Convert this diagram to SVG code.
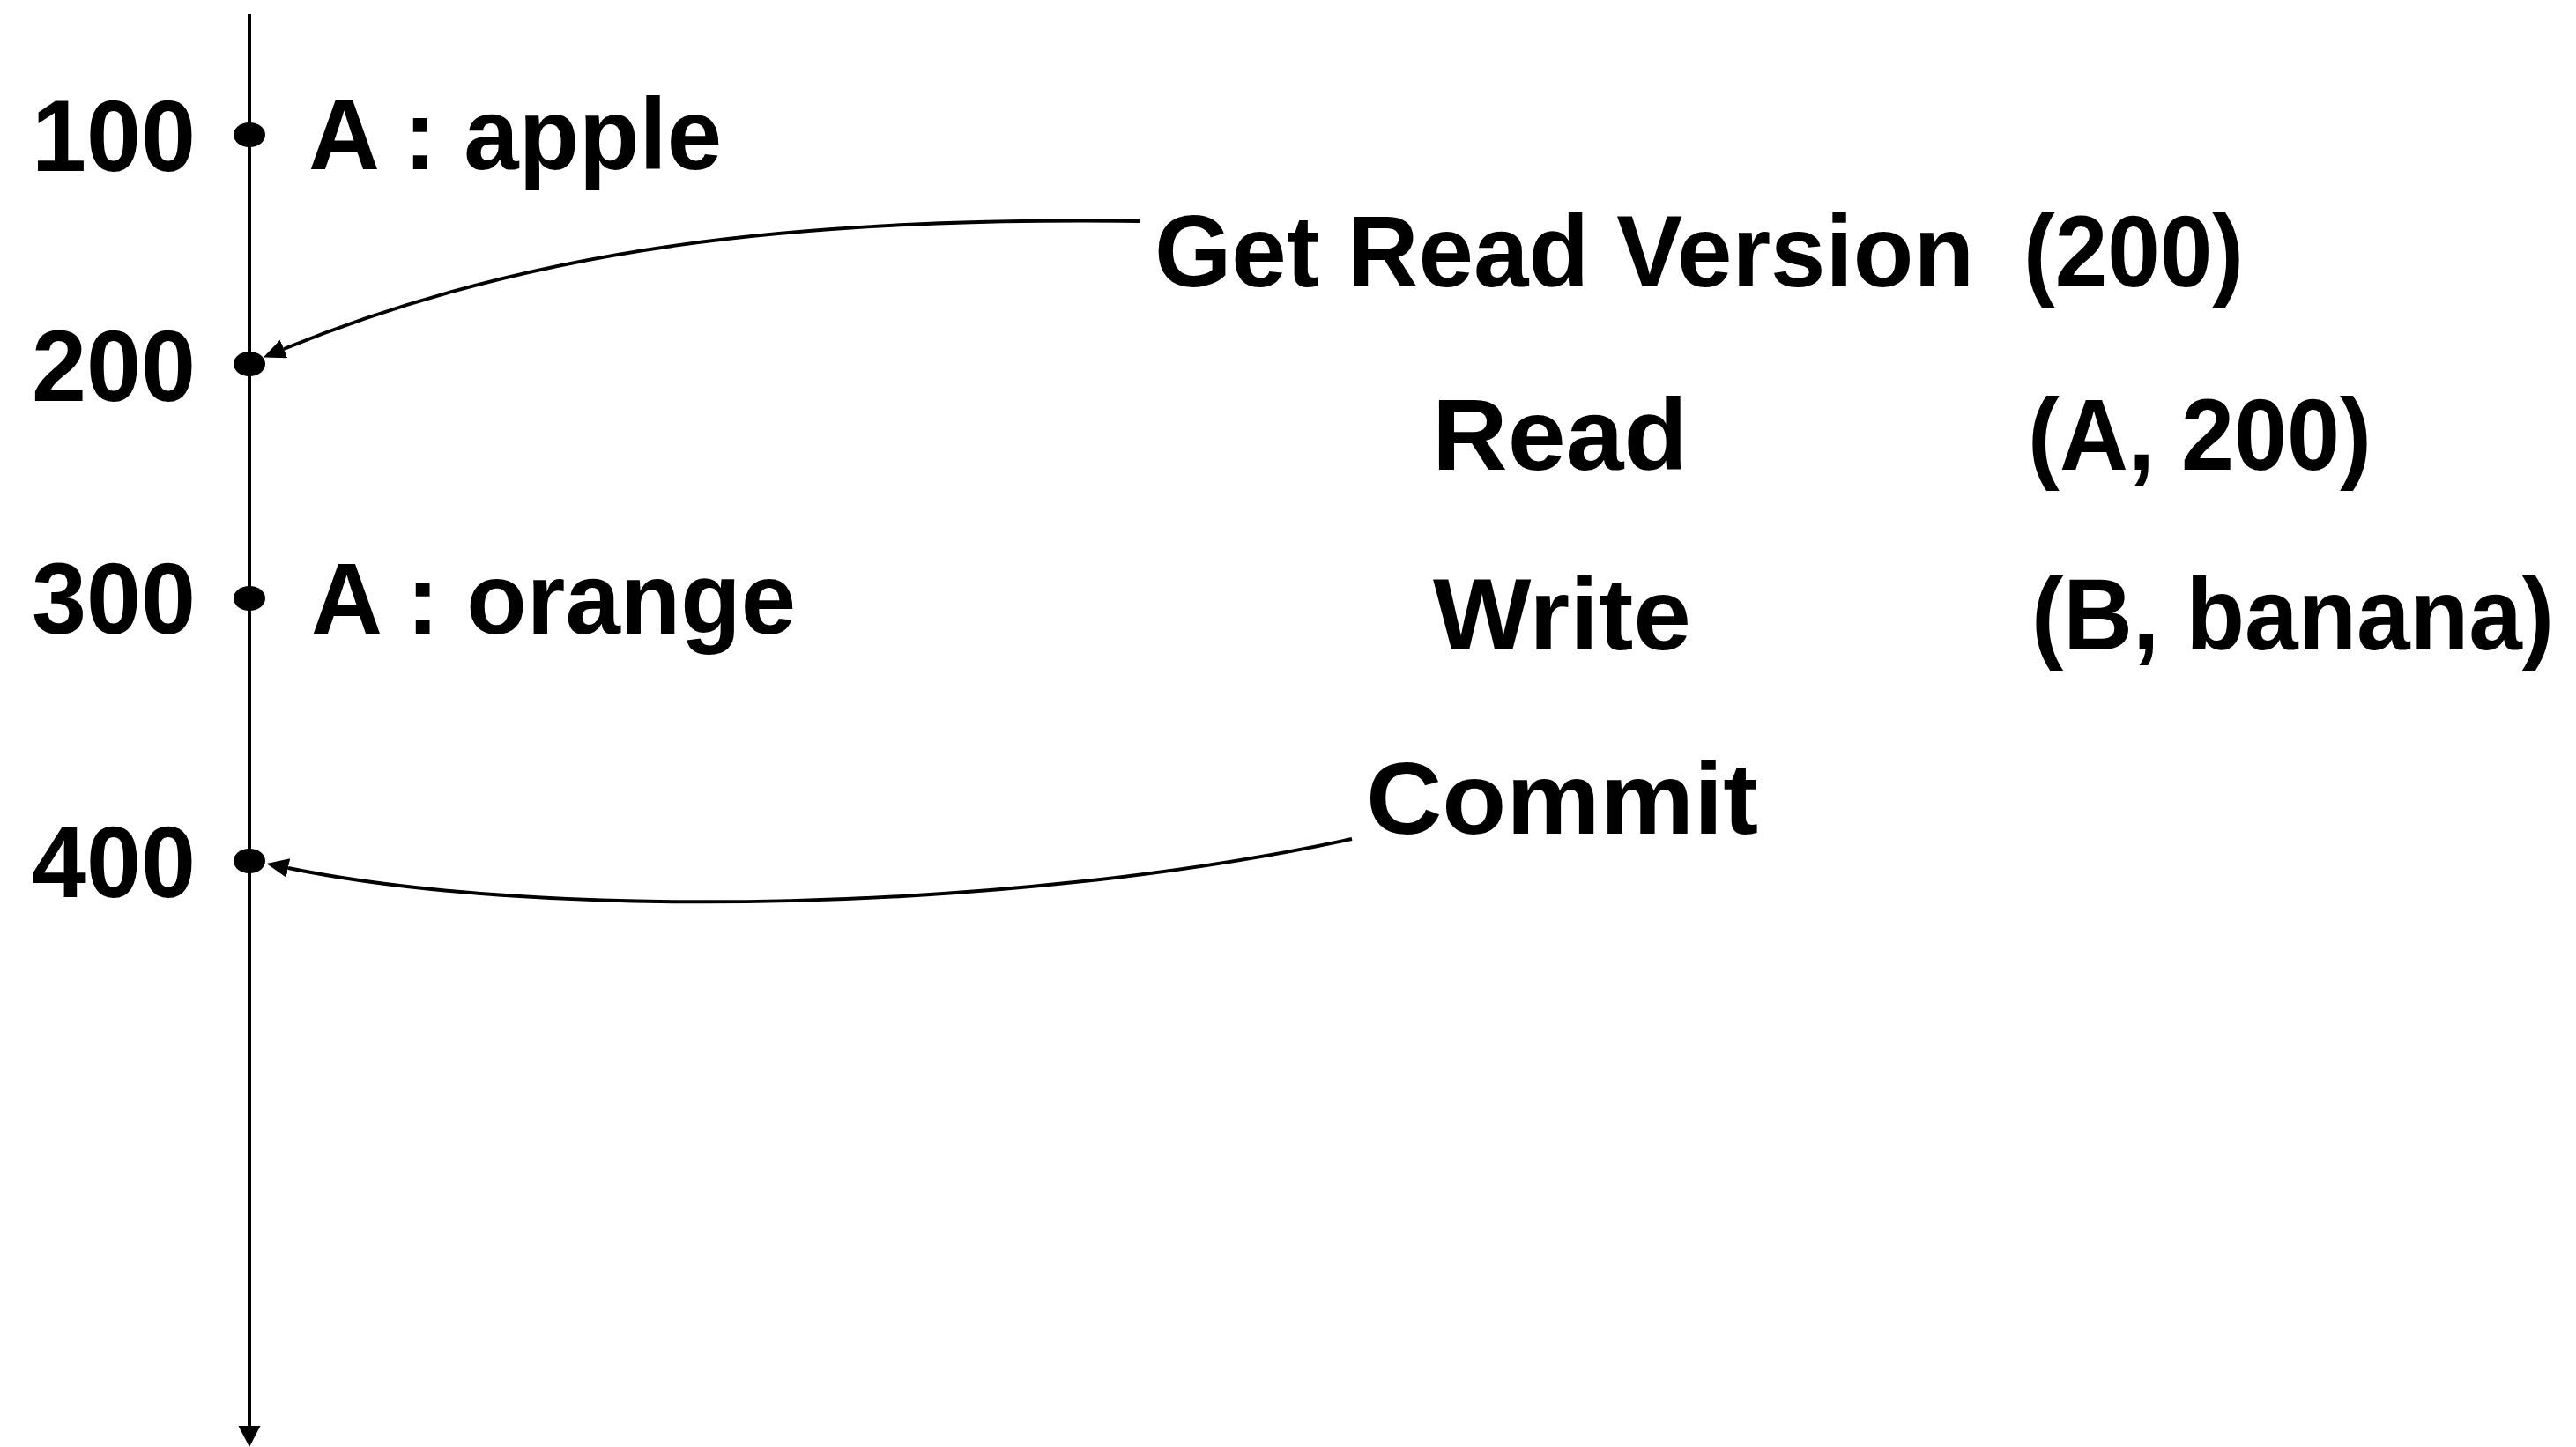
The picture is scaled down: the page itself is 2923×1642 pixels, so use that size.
<svg xmlns="http://www.w3.org/2000/svg" width="2923" height="1642" viewBox="0 0 2923 1642">
  <style>
    text { font-family: "Liberation Sans", Arial, Helvetica, sans-serif; font-weight: bold; font-size: 115px; fill: #000; }
    .tick { text-anchor: end; }
    .axis { stroke: #000; stroke-width: 4; fill: none; }
    .conn { stroke: #000; stroke-width: 4; fill: none; marker-end: url(#head); }
    .dot { fill: #000; }
  </style>
  <defs>
    <marker id="head" markerUnits="userSpaceOnUse" markerWidth="26" markerHeight="24" refX="0" refY="11" orient="auto">
      <path d="M0,0 L25,11 L0,22 Z" fill="#000"/>
    </marker>
  </defs>

  <rect width="2923" height="1642" fill="#fff"/>

  <!-- time axis -->
  <g id="axis">
    <line class="axis" x1="283" y1="16" x2="283" y2="1619"/>
    <path d="M270.5,1618 L295.5,1618 L283,1642 Z" fill="#000"/>
  </g>

  <!-- versions on the axis -->
  <g id="v100">
    <ellipse class="dot" cx="283" cy="153" rx="18" ry="14"/>
    <text class="tick" x="222" y="194" textLength="186" lengthAdjust="spacingAndGlyphs">100</text>
    <text x="350" y="192" textLength="469" lengthAdjust="spacingAndGlyphs">A : apple</text>
  </g>
  <g id="v200">
    <ellipse class="dot" cx="283" cy="413" rx="18" ry="14"/>
    <text class="tick" x="222" y="455" textLength="186" lengthAdjust="spacingAndGlyphs">200</text>
  </g>
  <g id="v300">
    <ellipse class="dot" cx="283" cy="679" rx="18" ry="14"/>
    <text class="tick" x="222" y="719" textLength="186" lengthAdjust="spacingAndGlyphs">300</text>
    <text x="353" y="719" textLength="550" lengthAdjust="spacingAndGlyphs">A : orange</text>
  </g>
  <g id="v400">
    <ellipse class="dot" cx="283" cy="977" rx="18" ry="14"/>
    <text class="tick" x="222" y="1018" textLength="186" lengthAdjust="spacingAndGlyphs">400</text>
  </g>

  <!-- transaction steps -->
  <g id="get-read-version">
    <text x="1310" y="325" textLength="930" lengthAdjust="spacingAndGlyphs">Get Read Version</text>
    <text x="2296" y="325" textLength="250" lengthAdjust="spacingAndGlyphs">(200)</text>
  </g>
  <g id="read">
    <text x="1625" y="533" textLength="290" lengthAdjust="spacingAndGlyphs">Read</text>
    <text x="2301" y="533" textLength="390" lengthAdjust="spacingAndGlyphs">(A, 200)</text>
  </g>
  <g id="write">
    <text x="1626" y="737" textLength="293" lengthAdjust="spacingAndGlyphs">Write</text>
    <text x="2305" y="737" font-size="111" textLength="593" lengthAdjust="spacingAndGlyphs">(B, banana)</text>
  </g>
  <g id="commit">
    <text x="1550" y="946" textLength="445" lengthAdjust="spacingAndGlyphs">Commit</text>
  </g>

  <!-- connectors -->
  <g id="connectors">
    <path class="conn" d="M1293,251 C900,246 600,282 322,396"/>
    <path class="conn" d="M1534,952 C1150,1035 620,1045 327,985"/>
  </g>
</svg>
